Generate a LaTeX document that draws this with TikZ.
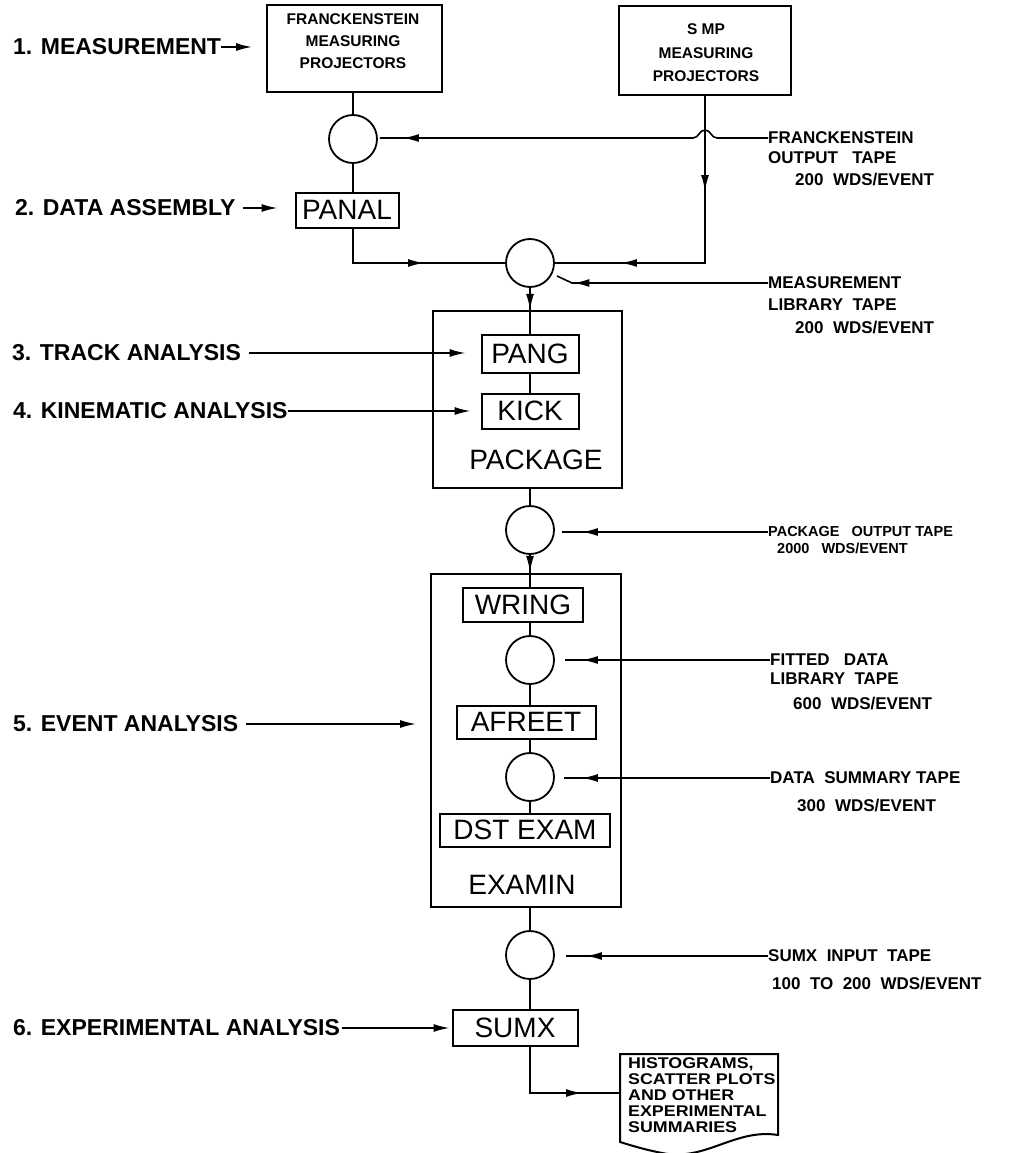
\documentclass[tikz,border=0pt]{standalone}
\usepackage{fontspec}
\setmainfont{Liberation Sans}
\newfontfamily\docfont[FakeStretch=1.15]{Liberation Sans}
\usetikzlibrary{positioning,arrows.meta,decorations.markings}

\tikzset{
  unit/.style={draw, line width=2pt, inner sep=0pt},
  prog/.style={unit, font=\fontsize{28}{30}\selectfont},
  tape/.style={draw, circle, line width=1.8pt, minimum size=48pt, inner sep=0pt},
  stage/.style={inner sep=0pt, anchor=west, font=\fontsize{23}{26}\selectfont\bfseries},
  note/.style={inner sep=0pt, anchor=west, font=\fontsize{17}{20}\selectfont\bfseries},
  boxtext/.style={inner sep=0pt, align=center, font=\fontsize{15.5}{22}\selectfont\bfseries},
  link/.style={line width=1.6pt},
  feed/.style={link, -{Latex[length=16pt,width=8pt]}},
  tip at/.style={postaction={decoration={markings, mark=at position #1 with {\arrow{Latex[length=16pt,width=8pt]}}}, decorate}},
}

\begin{document}
\begin{tikzpicture}[x=1pt,y=-1pt]
  \useasboundingbox (0,0) rectangle (1019,1153);
  \fill[white] (0,0) rectangle (1019,1153);

  % projectors and data assembly
  \node[unit, minimum width=175pt, minimum height=87pt] (fr) at (354.5,48.5) {};
  \node[boxtext] (frtext) at (353,41) {FRANCKENSTEIN\\MEASURING\\PROJECTORS};
  \node[unit, minimum width=172pt, minimum height=89pt] (smp) at (705,50.5) {};
  \node[boxtext, font=\fontsize{15.5}{23.5}\selectfont\bfseries] (smptext) at (706,53) {S MP\\MEASURING\\PROJECTORS};
  \node[tape] (c1) at (353,139) {};
  \node[prog, minimum width=103pt, minimum height=35pt] (panal) at (347,210) {PANAL};
  \node[tape] (c2) at (530,263) {};

  % package
  \node[unit, minimum width=189pt, minimum height=177pt] (pkg) at (527.5,399.5) {};
  \node[prog, minimum width=97pt, minimum height=38pt] (pang) at (530,354) {PANG};
  \node[prog, minimum width=97pt, minimum height=35pt] (kick) at (530,411) {KICK};
  \node[inner sep=0pt, font=\fontsize{28}{30}\selectfont] (pkgname) at (536,460) {PACKAGE};
  \node[tape] (c3) at (530,530) {};

  % examin
  \node[unit, minimum width=190pt, minimum height=333pt] (exa) at (526,740.5) {};
  \node[prog, minimum width=120pt, minimum height=34pt] (wring) at (523,605) {WRING};
  \node[tape] (c4) at (530,660) {};
  \node[prog, minimum width=139pt, minimum height=33pt] (afreet) at (526,722) {AFREET};
  \node[tape] (c5) at (530,777) {};
  \node[prog, minimum width=170pt, minimum height=33pt] (dst) at (525,830) {DST EXAM};
  \node[inner sep=0pt, font=\fontsize{28}{30}\selectfont] (exaname) at (522,885) {EXAMIN};

  % sumx and output
  \node[tape] (c6) at (530,955) {};
  \node[prog, minimum width=125pt, minimum height=36pt] (sumx) at (515,1028) {SUMX};
  \node[inner sep=0pt, anchor=north west, align=left, font=\docfont\fontsize{15.5}{16.2}\selectfont\bfseries] (doc) at (628,1057) {HISTOGRAMS,\\SCATTER PLOTS\\AND OTHER\\EXPERIMENTAL\\SUMMARIES};
  \draw[unit] (620,1054) -- (778,1054) -- (778,1135) .. controls (735,1128) and (705,1162) .. (662,1153) .. controls (642,1149) and (630,1145) .. (620,1142) -- cycle;
  \coordinate (docin) at (620,1093);

  % stage labels
  \node[stage] (l1) at (13,47) {1. MEASUREMENT};
  \node[stage] (l2) at (15,208) {2. DATA ASSEMBLY};
  \node[stage] (l3) at (12,353) {3. TRACK ANALYSIS};
  \node[stage] (l4) at (13,411) {4. KINEMATIC ANALYSIS};
  \node[stage] (l5) at (13,724) {5. EVENT ANALYSIS};
  \node[stage] (l6) at (13,1028) {6. EXPERIMENTAL ANALYSIS};

  \draw[feed, shorten >=14pt] (l1.east) -- (l1.east -| fr.west);
  \draw[feed, shorten <=7pt, shorten >=17pt] (l2.east) -- (l2.east -| panal.west);
  \draw[feed, shorten <=8pt, shorten >=15pt] (l3.east) -- (l3.east -| pang.west);
  \draw[feed, shorten >=10pt] (l4.east) -- (l4.east -| kick.west);
  \draw[feed, shorten <=8pt, shorten >=14pt] (l5.east) -- (l5.east -| exa.west);
  \draw[feed, shorten <=2pt, shorten >=2pt] (l6.east) -- (l6.east -| sumx.west);

  % tape labels
  \node[note] (ft) at (768,138) {FRANCKENSTEIN};
  \node[note] (ft2) at (768,158) {OUTPUT\ \ \ TAPE};
  \node[note] (ft3) at (795,180) {200\ \ WDS/EVENT};
  \node[note] (mlt) at (768,283) {MEASUREMENT};
  \node[note] (mlt2) at (768,305) {LIBRARY\ \ TAPE};
  \node[note] (mlt3) at (795,328) {200\ \ WDS/EVENT};
  \node[note, font=\fontsize{14.5}{16}\selectfont\bfseries] (pot) at (768,532) {PACKAGE\ \ \ OUTPUT\ TAPE};
  \node[note, font=\fontsize{14.5}{16}\selectfont\bfseries] (pot2) at (777,548) {2000\ \ \ WDS/EVENT};
  \node[note] (fdl) at (770,660) {FITTED\ \ \ DATA};
  \node[note] (fdl2) at (770,679) {LIBRARY\ \ TAPE};
  \node[note] (fdl3) at (793,704) {600\ \ WDS/EVENT};
  \node[note] (dsl) at (770,778) {DATA\ \ SUMMARY\ TAPE};
  \node[note] (dsl2) at (797,806) {300\ \ WDS/EVENT};
  \node[note] (sit) at (768,956) {SUMX\ \ INPUT\ \ TAPE};
  \node[note] (sit2) at (772,983) {100\ \ TO\ \ 200\ \ WDS/EVENT};

  % flow
  \coordinate (hop) at (smp.south |- ft.west);
  \coordinate (mbend) at (572,283);
  \coordinate (mend) at (557,276);
  \draw[link] (c1.north) -- (c1.north |- fr.south);
  \draw[link] (c1.south) -- (c1.south |- panal.north);
  \draw[link, tip at=-81pt] (c1.south |- panal.south) |- (c2.west);
  \draw[link, tip at=95pt, tip at=-66pt] (smp.south) |- (c2.east);
  \draw[link, tip at=-23pt] (ft.west) -- ([xshift=12pt]hop)
    .. controls +(-6,0) and +(6,0) .. ([yshift=8pt]hop)
    .. controls +(-6,0) and +(6,0) .. ([xshift=-12pt]hop) -- ([xshift=2pt]c1.east |- hop);
  \draw[link, tip at=-18pt] (mlt.west) -- (mbend) -- (mend);
  \draw[link, tip at=22pt] (c2.south) -- (c2.south |- pang.north);
  \draw[link] (pang.south) -- (kick.north);
  \draw[link] (c3.north |- pkg.south) -- (c3.north);
  \draw[link, tip at=17pt] (c3.south) -- (c3.south |- wring.north);
  \draw[link] (c4.north |- wring.south) -- (c4.north);
  \draw[link] (c4.south) -- (c4.south |- afreet.north);
  \draw[link] (c5.north |- afreet.south) -- (c5.north);
  \draw[link] (c5.south) -- (c5.south |- dst.north);
  \draw[link] (c6.north |- exa.south) -- (c6.north);
  \draw[link] (c6.south) -- (c6.south |- sumx.north);
  \draw[link, tip at=-38pt] (c6 |- sumx.south) |- (docin);
  \draw[link, tip at=-20pt] (pot.west) -- ([xshift=7pt]c3.east |- pot.west);
  \draw[link, tip at=-17pt] (fdl.west) -- ([xshift=10pt]c4.east |- fdl.west);
  \draw[link, tip at=-18pt] (dsl.west) -- ([xshift=9pt]c5.east |- dsl.west);
  \draw[link, tip at=-20pt] (sit.west) -- ([xshift=11pt]c6.east |- sit.west);
\end{tikzpicture}
\end{document}
